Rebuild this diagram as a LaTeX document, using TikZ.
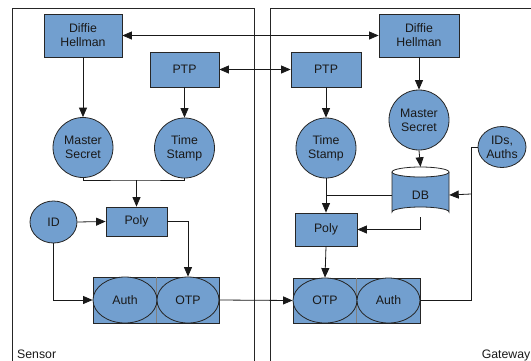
\documentclass[tikz,border=0pt]{standalone}
\usepackage{fontspec}
\setmainfont{Liberation Sans}
\usetikzlibrary{arrows.meta,shapes.geometric}
\definecolor{boxblue}{HTML}{729FCF}
\begin{document}
\begin{tikzpicture}[x=1pt,y=-1pt,
  lbl/.style={font=\fontsize{12.3}{14}\selectfont, text=black!90},
  box/.style={lbl, draw=black!85, fill=boxblue, line width=0.8pt, inner sep=0pt, align=center},
  rbox/.style={box, rectangle},
  circ/.style={box, circle, minimum size=60pt},
  ell/.style={box, ellipse},
  conn/.style={line width=0.8pt, black!90},
  tip/.tip={Triangle[length=9.5pt,width=8pt]},
  arr/.style={conn, -tip},
  darr/.style={conn, tip-tip},
  frame/.style={line width=0.8pt, black!85}
]
\useasboundingbox (0,0) rectangle (531,360);
\clip (0,0) rectangle (531,360);

% frames
\draw[frame] (12,380) -- (12,8) -- (254,8) -- (254,380);
\draw[frame] (270,380) -- (270,8) -- (545,8);

% sensor side
\node[rbox, minimum width=78pt, minimum height=43pt] (DHL) at (83,35.5) {Diffie\\Hellman};
\node[rbox, minimum width=69pt, minimum height=35pt] (PTPL) at (184.5,69.5) {PTP};
\node[circ] (MSL) at (83,147.5) {Master\\Secret};
\node[circ] (TSL) at (184.5,148) {Time\\Stamp};
\node[ell, minimum width=47pt, minimum height=42pt] (ID) at (53.5,222) {ID};
\node[rbox, minimum width=61pt, minimum height=29pt] (PolyL) at (136.5,221.5) {Poly};
\node[rbox, minimum width=126pt, minimum height=46pt] (CL) at (156,300) {};
\draw[black!50, line width=0.4pt] (CL.north) -- (CL.south);
\node[ell, minimum width=64pt, minimum height=46pt] (AuthL) at (125,300) {Auth};
\node[ell, minimum width=62pt, minimum height=46pt] (OTPL) at (188,300) {OTP};

% gateway side
\node[rbox, minimum width=80pt, minimum height=43pt] (DHR) at (419,35.5) {Diffie\\Hellman};
\node[rbox, minimum width=70pt, minimum height=35pt] (PTPR) at (326,69.5) {PTP};
\node[circ] (MSR) at (419,120) {Master\\Secret};
\node[circ] (TSR) at (326,148) {Time\\Stamp};
\node[ell, minimum width=48pt, minimum height=41pt] (IDs) at (502,147) {IDs,\\Auths};
% DB cylinder
\fill[boxblue] (392,172) -- (392,212) arc (180:0:28.5pt and 5pt) -- (449,172) arc (0:-180:28.5pt and 5pt) -- cycle;
\draw[black!85, line width=0.8pt] (392,172) -- (392,212) arc (180:0:28.5pt and 5pt) -- (449,172);
\draw[black!85, line width=0.8pt] (420.5,172) ellipse (28.5pt and 5pt);
\node[lbl, minimum width=57pt, minimum height=44pt, inner sep=0pt] (DB) at (420.5,195) {DB};
\node[rbox, minimum width=62pt, minimum height=33pt] (PolyR) at (326,229.5) {Poly};
\node[rbox, minimum width=127pt, minimum height=45pt] (CR) at (356.5,300.5) {};
\draw[black!50, line width=0.4pt] (CR.north) -- (CR.south);
\node[ell, minimum width=64pt, minimum height=45pt] (OTPR) at (325,300.5) {OTP};
\node[ell, minimum width=63pt, minimum height=45pt] (AuthR) at (388.5,300.5) {Auth};

% labels
\node[lbl, anchor=base west, inner sep=0pt] (sensor) at (17,358) {Sensor};
\node[lbl, anchor=base east, inner sep=0pt] (gateway) at (530.5,358) {Gateway};

% connectors between sides
\draw[darr] (DHL.east) -- (DHR.west);
\draw[darr] (PTPL.east) -- (PTPR.west);
\draw[arr] (OTPL.east) -- (OTPR.west);

% sensor connectors
\draw[arr] (DHL.south) -- (MSL.north);
\draw[arr] (PTPL.south) -- (TSL.north);
\coordinate (jL) at (136.5,180);
\draw[conn] (MSL.south) |- (jL) -| (TSL.south);
\draw[arr] (jL) -- (PolyL.north);
\draw[arr] (ID.east) -- (PolyL.west);
\draw[arr] (PolyL.east) -| (OTPL.north);
\draw[arr] (ID.south) |- (AuthL.west);

% gateway connectors
\draw[arr] (DHR.south) -- (MSR.north);
\draw[arr] (PTPR.south) -- (TSR.north);
\draw[arr] (MSR.south) -- ([yshift=6pt]DB.north);
\draw[arr] (TSR.south) -- (PolyR.north);
\draw[conn] (DB.west) -- (DB.west -| TSR.south);
\draw[arr] (DB.south) |- (PolyR.east);
\draw[arr] (PolyR.south) -- (OTPR.north);
\coordinate (vTop) at (471,147);
\coordinate (vMid) at (471,194);
\draw[conn] (AuthR.east) -| (vTop) -- (IDs.west);
\draw[arr] (vMid) -- (DB.east);
\end{tikzpicture}
\end{document}
